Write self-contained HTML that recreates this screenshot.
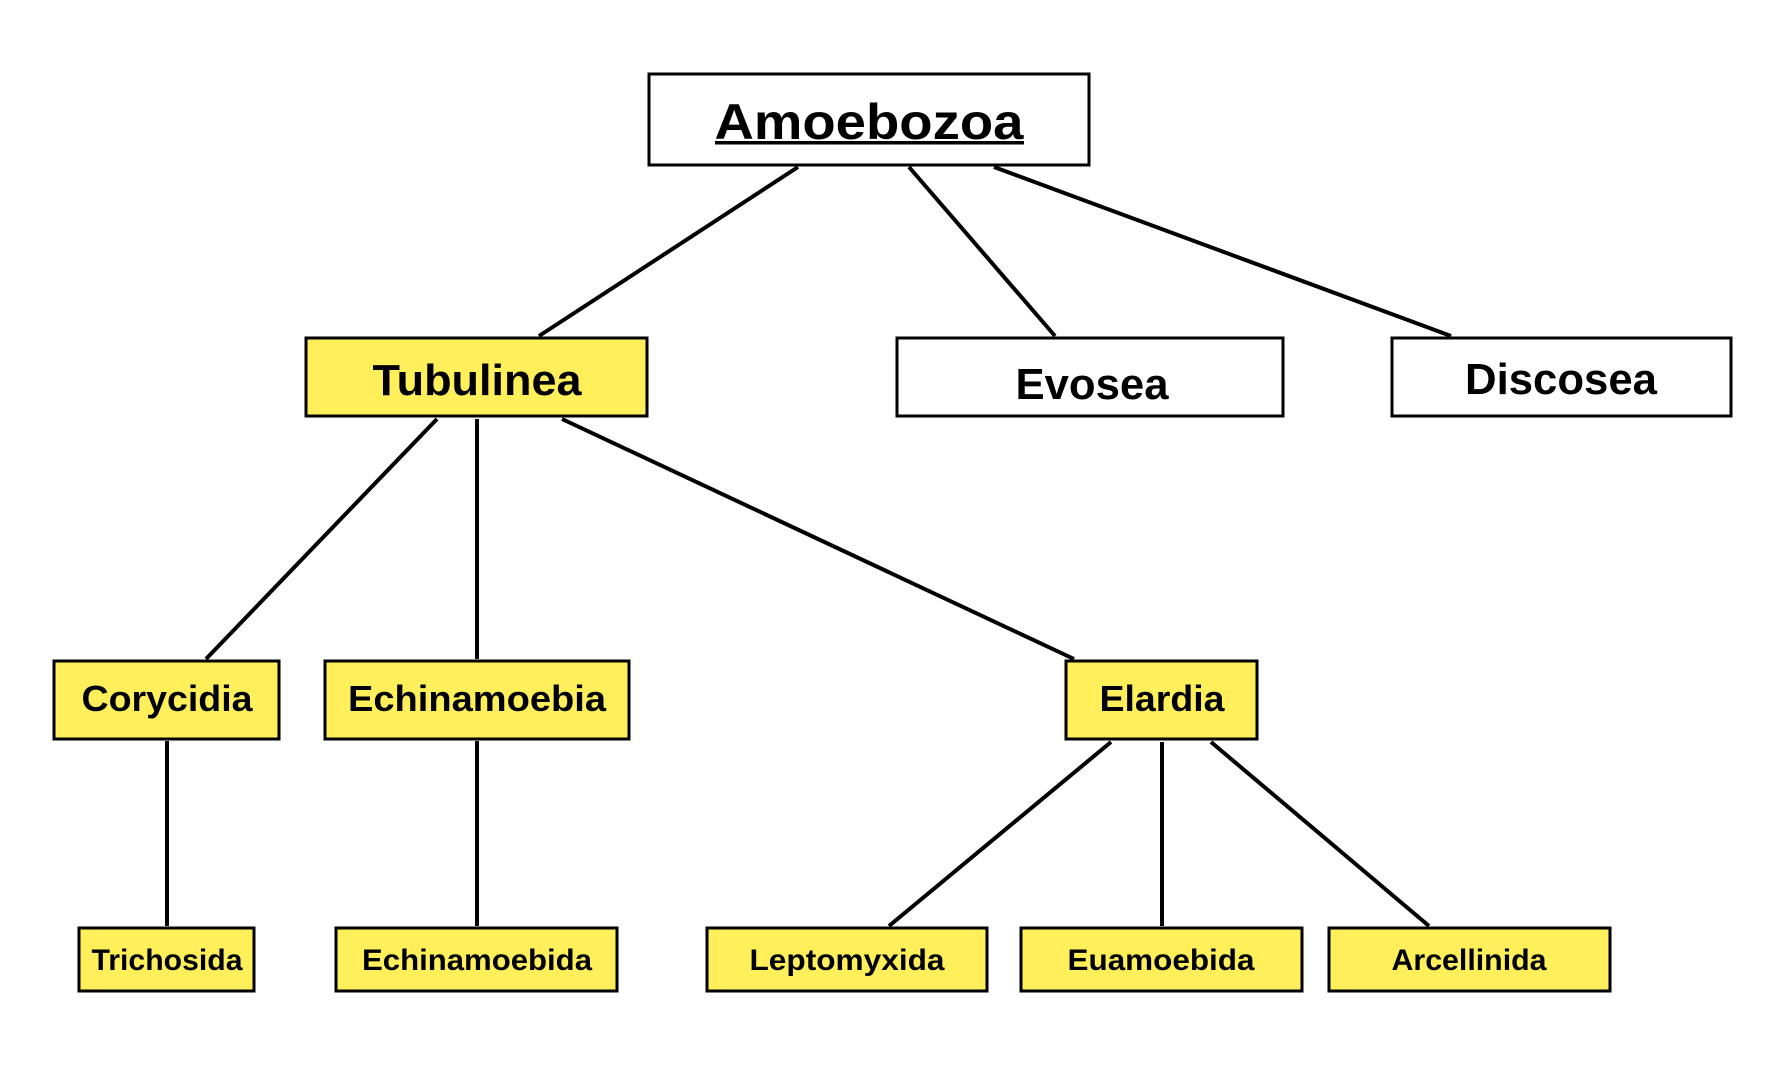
<!DOCTYPE html>
<html><head><meta charset="utf-8"><style>html,body{margin:0;padding:0;background:#fff}svg{display:block}</style></head>
<body>
<svg width="1792" height="1090" viewBox="0 0 1792 1090" xmlns="http://www.w3.org/2000/svg" font-family="Liberation Sans, sans-serif" font-weight="bold" text-anchor="middle">
<g stroke="#000" stroke-width="4" fill="none">
<line x1="798" y1="167" x2="539" y2="336"/>
<line x1="909" y1="167" x2="1055" y2="336"/>
<line x1="994" y1="167" x2="1451" y2="336"/>
<line x1="437" y1="419" x2="206" y2="659"/>
<line x1="477" y1="419" x2="477" y2="659"/>
<line x1="562" y1="419" x2="1074" y2="659"/>
<line x1="167" y1="741" x2="167" y2="926"/>
<line x1="477" y1="741" x2="477" y2="926"/>
<line x1="1111" y1="742" x2="889" y2="926"/>
<line x1="1162" y1="742" x2="1162" y2="926"/>
<line x1="1211" y1="742" x2="1429" y2="926"/>
</g>
<g stroke="#000" stroke-width="3">
<rect x="649" y="74" width="440" height="91" fill="#fff"/>
<rect x="306" y="338" width="341" height="78" fill="#FFEF5A"/>
<rect x="897" y="338" width="386" height="78" fill="#fff"/>
<rect x="1392" y="338" width="339" height="78" fill="#fff"/>
<rect x="54" y="661" width="225" height="78" fill="#FFEF5A"/>
<rect x="325" y="661" width="304" height="78" fill="#FFEF5A"/>
<rect x="1066" y="661" width="191" height="78" fill="#FFEF5A"/>
<rect x="79" y="928" width="175" height="63" fill="#FFEF5A"/>
<rect x="336" y="928" width="281" height="63" fill="#FFEF5A"/>
<rect x="707" y="928" width="280" height="63" fill="#FFEF5A"/>
<rect x="1021" y="928" width="281" height="63" fill="#FFEF5A"/>
<rect x="1329" y="928" width="281" height="63" fill="#FFEF5A"/>
</g>
<g fill="#000">
<text x="869" y="139" font-size="50" textLength="309" lengthAdjust="spacingAndGlyphs">Amoebozoa</text>
<rect x="715" y="141" width="309" height="3.5"/>
<text x="477" y="395" font-size="44" textLength="209" lengthAdjust="spacingAndGlyphs">Tubulinea</text>
<text x="1092" y="399" font-size="44" textLength="153" lengthAdjust="spacingAndGlyphs">Evosea</text>
<text x="1561" y="394" font-size="44" textLength="192" lengthAdjust="spacingAndGlyphs">Discosea</text>
<text x="167" y="711" font-size="36" textLength="171" lengthAdjust="spacingAndGlyphs">Corycidia</text>
<text x="477" y="711" font-size="36" textLength="258" lengthAdjust="spacingAndGlyphs">Echinamoebia</text>
<text x="1162" y="711" font-size="36" textLength="125" lengthAdjust="spacingAndGlyphs">Elardia</text>
<text x="167" y="970" font-size="30" textLength="151" lengthAdjust="spacingAndGlyphs">Trichosida</text>
<text x="477" y="970" font-size="30" textLength="230" lengthAdjust="spacingAndGlyphs">Echinamoebida</text>
<text x="847" y="970" font-size="30" textLength="195" lengthAdjust="spacingAndGlyphs">Leptomyxida</text>
<text x="1161" y="970" font-size="30" textLength="187" lengthAdjust="spacingAndGlyphs">Euamoebida</text>
<text x="1469" y="970" font-size="30" textLength="155" lengthAdjust="spacingAndGlyphs">Arcellinida</text>
</g>
</svg>
</body></html>
